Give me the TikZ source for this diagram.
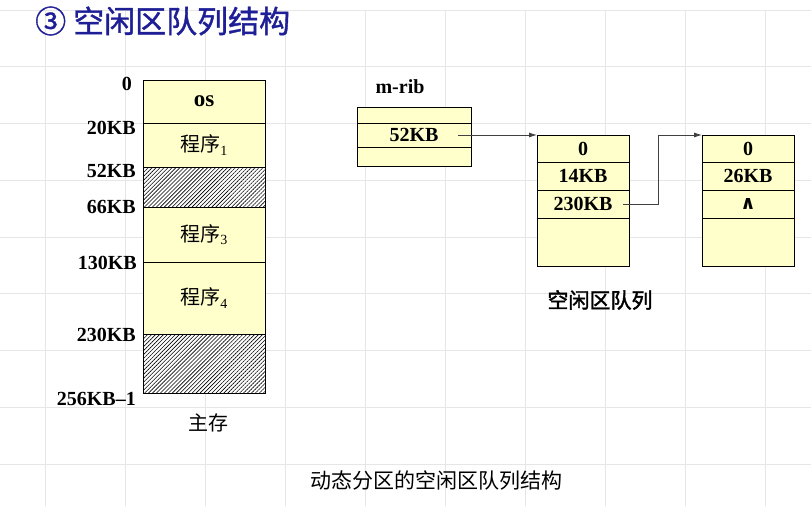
\documentclass[tikz,border=0pt]{standalone}
\usepackage{fontspec}
\setmainfont{Liberation Serif}
\newfontfamily\cjk{Noto Sans CJK SC}
\newfontfamily\cjkmed[FakeBold=1.2]{Noto Sans CJK SC}
\newfontfamily\cjkbold[FakeBold=2]{Noto Sans CJK SC}
\newfontfamily\symfont{DejaVu Sans}
\usetikzlibrary{positioning,patterns.meta,arrows.meta}

\definecolor{memfill}{RGB}{255,255,204}
\definecolor{titleblue}{RGB}{30,30,150}
\definecolor{gridgray}{RGB}{230,230,230}

\tikzset{
  gridline/.style={gridgray, line width=1pt},
  mem/.style={draw, fill=memfill, minimum width=122pt, inner sep=0pt, outer sep=0pt,
    font=\fontsize{20}{24}\selectfont},
  hole/.style={draw, preaction={fill=white}, pattern={Lines[angle=45,distance=2.8pt,line width=0.6pt]},
    minimum width=122pt, inner sep=0pt, outer sep=0pt},
  cell/.style={draw, fill=memfill, inner sep=0pt, outer sep=0pt,
    font=\fontsize{20}{24}\selectfont\bfseries},
  addr/.style={anchor=east, inner sep=0pt, font=\fontsize{20}{24}\selectfont\bfseries},
  link/.style={black!75, line width=0.8pt, -{Latex[length=8pt,width=5pt]}}
}

\begin{document}
\begin{tikzpicture}[x=1pt,y=-1pt]
        \useasboundingbox (0,0) rectangle (811,506);

        % Background grid
        \foreach \gx in {45,125,...,765}
            \draw[gridline] (\gx,10) -- (\gx,506);
        \foreach \gy in {0,...,8}
            \draw[gridline] (0,{10+56.75*\gy}) -- (811,{10+56.75*\gy});

        % Title
        \node[anchor=west, inner sep=0pt, text=titleblue, font=\cjkmed\fontsize{31}{36}\selectfont] (title) at (35,21) {③ 空闲区队列结构};

        % Main memory
        \node[mem, minimum height=43pt] (os) at (204,101.5) {\fontsize{23}{24}\selectfont\bfseries os};
        \node[mem, minimum height=44pt, below=0pt of os] (prog1) {{\cjk 程序}\textsubscript{1}};
        \node[hole, minimum height=40pt, below=0pt of prog1] (free1) {};
        \node[mem, minimum height=55pt, below=0pt of free1] (prog3) {{\cjk 程序}\textsubscript{3}};
        \node[mem, minimum height=72pt, below=0pt of prog3] (prog4) {{\cjk 程序}\textsubscript{4}};
        \node[hole, minimum height=59pt, below=0pt of prog4] (free2) {};

        % Addresses
        \node[addr] (a0) at (132,84) {0};
        \node[addr] (a20) at (136,128) {20KB};
        \node[addr] (a52) at (136,171) {52KB};
        \node[addr] (a66) at (136,207) {66KB};
        \node[addr] (a130) at (137,263) {130KB};
        \node[addr] (a230) at (136,335) {230KB};
        \node[addr] (a256) at (136,399) {256KB--1};
        \node[font=\cjk\fontsize{20}{24}\selectfont] (mainmem) at (208,423) {主存};

        % m-rib
        \node[font=\fontsize{20}{24}\selectfont\bfseries] (ribname) at (400,87) {m-rib};
        \node[cell, minimum width=114pt, minimum height=16pt] (rib1) at (414,115) {};
        \node[cell, minimum width=114pt, minimum height=24pt, below=0pt of rib1] (rib2) {52KB};
        \node[cell, minimum width=114pt, minimum height=19pt, below=0pt of rib2] (rib3) {};

        % First free block
        \node[cell, minimum width=92pt, minimum height=27pt] (q1a) at (583,148.5) {0};
        \node[cell, minimum width=92pt, minimum height=28pt, below=0pt of q1a] (q1b) {14KB};
        \node[cell, minimum width=92pt, minimum height=28pt, below=0pt of q1b] (q1c) {230KB};
        \node[cell, minimum width=92pt, minimum height=48pt, below=0pt of q1c] (q1d) {};

        % Second free block
        \node[cell, minimum width=92pt, minimum height=27pt] (q2a) at (748,148.5) {0};
        \node[cell, minimum width=92pt, minimum height=28pt, below=0pt of q2a] (q2b) {26KB};
        \node[cell, minimum width=92pt, minimum height=28pt, below=0pt of q2b] (q2c) {\symfont\bfseries\fontsize{19}{20}\selectfont ∧};
        \node[cell, minimum width=92pt, minimum height=48pt, below=0pt of q2c] (q2d) {};

        % Links
        \draw[link] ([xshift=-13pt]rib2.east) -- (q1a.north west);
        \draw[link] ([xshift=-6pt]q1c.east) -- ++(35,0) |- (q2a.north west);

        \node[font=\cjkbold\fontsize{21}{24}\selectfont] (queue) at (600,300) {空闲区队列};

        % Caption
        \node[font=\cjk\fontsize{21}{24}\selectfont] (caption) at (436,481) {动态分区的空闲区队列结构};
\end{tikzpicture}
\end{document}
